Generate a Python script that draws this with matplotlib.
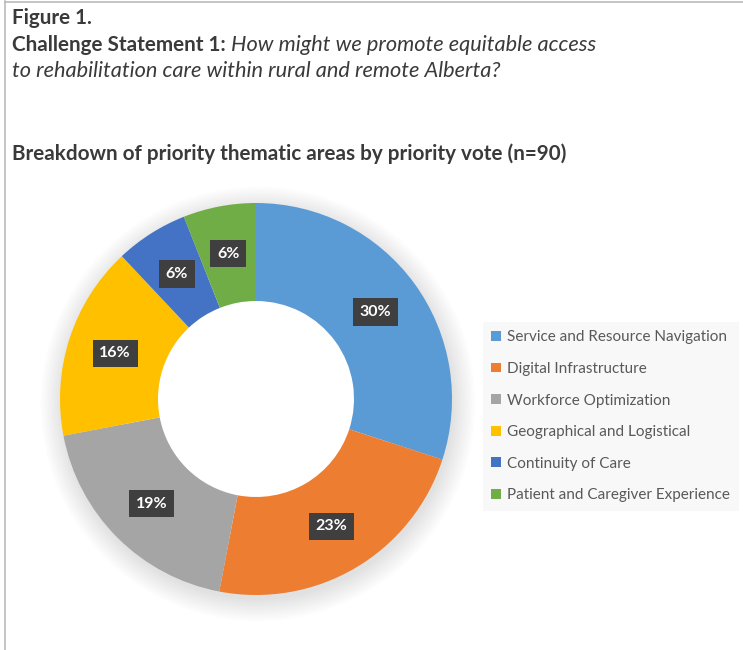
import matplotlib
matplotlib.use("Agg")
import matplotlib.pyplot as plt
from matplotlib.patches import Patch, Circle, Wedge
from matplotlib.lines import Line2D
import numpy as np

categories = ["Service and Resource Navigation", "Digital Infrastructure",
              "Workforce Optimization", "Geographical and Logistical",
              "Continuity of Care", "Patient and Caregiver Experience"]
values = [30, 23, 19, 16, 6, 6]
colors = ["#5B9BD5", "#ED7D31", "#A5A5A5", "#FFC000", "#4472C4", "#70AD47"]

plt.rcParams['font.family'] = ['Lato', 'DejaVu Sans']
W, H = 743, 650
fig = plt.figure(figsize=(W/100, H/100), dpi=100)
fig.patch.set_facecolor("white")

# border lines
fig.add_artist(Line2D([5/W, 5/W], [0, 1-1/H], color="#BBBBBB", lw=1.2))
fig.add_artist(Line2D([5/W, 1], [1-1.5/H, 1-1.5/H], color="#BBBBBB", lw=1.2))

tc = "#3A3A3A"
fs = 14.9
fsi = 15.7
fig.text(12/W, 1-18/H, "Figure 1.", fontsize=fs, fontweight="bold", color=tc, va="center")
t1 = fig.text(12/W, 1-45/H, "Challenge Statement 1: ", fontsize=fs, fontweight="bold", color=tc, va="center")
fig.canvas.draw()
bb = t1.get_window_extent(fig.canvas.get_renderer())
fig.text(bb.x1/W, 1-45/H, "How might we promote equitable access", fontsize=fsi,
         fontstyle="italic", color=tc, va="center")
fig.text(12/W, 1-71/H, "to rehabilitation care within rural and remote Alberta?", fontsize=fsi,
         fontstyle="italic", color=tc, va="center")
fig.text(12/W, 1-154/H, "Breakdown of priority thematic areas by priority vote (n=90)", fontsize=fs,
         fontweight="bold", color=tc, va="center")

# donut
cx, cy, R = 256, 399, 196
ax = fig.add_axes([(cx-R)/W, (H-cy-R)/H, 2*R/W, 2*R/H])
# soft shadow (outside ring only)
for i in range(10):
    ax.add_patch(Wedge((0.01, -0.025), 1.0 + 0.012*i, 0, 360, width=0.3 + 0.012*i,
                       color="#000000", alpha=0.010, zorder=0, lw=0, clip_on=False))
wedges, texts = ax.pie(values, colors=colors, startangle=90, counterclock=False,
                       radius=1.0, wedgeprops=dict(width=0.5, edgecolor="none"))
for w in wedges:
    w.set_zorder(2)
ax.set_xlim(-1, 1); ax.set_ylim(-1, 1); ax.axis("off")
for w, v in zip(wedges, values):
    ang = np.deg2rad((w.theta1 + w.theta2) / 2)
    r = 0.755
    ax.text(r*np.cos(ang), r*np.sin(ang), f"{v}%", ha="center", va="center",
            fontsize=11.5, fontweight="bold", color="white", zorder=5,
            bbox=dict(boxstyle="square,pad=0.42", fc="#3F3F3F", ec="none"))

handles = [Patch(facecolor=c, edgecolor="none") for c in colors]
leg = fig.legend(handles, categories, loc="upper left", bbox_to_anchor=(483/W, 1-322/H),
                 frameon=True, fontsize=11, labelcolor="#595959", handlelength=0.6,
                 handleheight=0.6, handletextpad=0.45, labelspacing=1.15,
                 borderpad=0.55, borderaxespad=0)
leg.get_frame().set_facecolor("#F7F7F7")
leg.get_frame().set_edgecolor("none")
leg.get_frame().set_boxstyle("square", pad=0)

fig.savefig("out.png", dpi=100)
